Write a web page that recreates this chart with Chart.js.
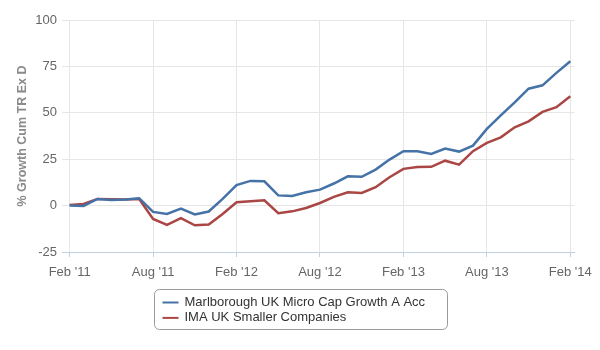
<!DOCTYPE html>
<html>
<head>
<meta charset="utf-8">
<script src="https://cdn.jsdelivr.net/npm/chart.js@4/dist/chart.umd.min.js"></script>
<style>
    body { margin: 0; background: #ffffff; }
    #wrap { width: 600px; height: 350px; }
</style>
</head>
<body>
<div id="wrap"><canvas id="growthChart" width="600" height="350"></canvas></div>
<script>
// monthly points, Feb 2011 .. Feb 2014
const months = [
    'Feb 2011', 'Mar 2011', 'Apr 2011', 'May 2011', 'Jun 2011', 'Jul 2011', 'Aug 2011', 'Sep 2011', 'Oct 2011', 'Nov 2011', 'Dec 2011', 'Jan 2012',
    'Feb 2012', 'Mar 2012', 'Apr 2012', 'May 2012', 'Jun 2012', 'Jul 2012', 'Aug 2012', 'Sep 2012', 'Oct 2012', 'Nov 2012', 'Dec 2012', 'Jan 2013',
    'Feb 2013', 'Mar 2013', 'Apr 2013', 'May 2013', 'Jun 2013', 'Jul 2013', 'Aug 2013', 'Sep 2013', 'Oct 2013', 'Nov 2013', 'Dec 2013', 'Jan 2014',
    'Feb 2014'
];
const tickLabels = ["Feb '11", "Aug '11", "Feb '12", "Aug '12", "Feb '13", "Aug '13", "Feb '14"];
const yTicks = [-25, 0, 25, 50, 75, 100];

const seriesNames = ['Marlborough UK Micro Cap Growth A Acc', 'IMA UK Smaller Companies'];
const marlborough = [0, -0.2, 3.6, 3.0, 3.3, 4.0, -3.4, -4.5, -1.6, -4.8, -3.2, 3.6,
    11.1, 13.3, 13.1, 5.5, 5.2, 7.2, 8.6, 11.9, 15.8, 15.5, 19.4, 24.8,
    29.3, 29.3, 27.8, 30.7, 29.1, 32.3, 41.3, 48.6, 55.6, 63.0, 64.8, 71.5, 77.8];
const imaSmaller = [0.3, 0.9, 3.6, 3.4, 3.3, 3.5, -7.2, -10.4, -6.8, -10.6, -10.2, -4.5,
    1.8, 2.3, 2.9, -4.1, -3.1, -1.3, 1.4, 4.7, 7.2, 6.8, 9.9, 15.3,
    19.8, 20.8, 20.9, 24.2, 22.1, 29.3, 33.8, 36.8, 42.2, 45.4, 50.5, 53.0, 58.9];

const FONT = '"Liberation Sans", Arial, sans-serif';
const AXIS_COLOR = '#C0D0E0';
const GRID_COLOR = '#e6e6e6';

Chart.defaults.font.family = FONT;

function toPoints(values) {
    return values.map((v, i) => ({ x: i, y: v, month: months[i] }));
}

// legend drawn as a bordered box under the axis
const legendBox = {
    id: 'legendBox',
    afterDraw(chart) {
        const ctx = chart.ctx;
        const sets = chart.data.datasets;
        ctx.save();
        ctx.font = '13px ' + FONT;
        const textW = Math.max(...sets.map(d => ctx.measureText(d.label).width));
        const w = Math.round(8 + 16 + 6 + textW + 22);
        const h = 40;
        const x = Math.round((chart.width - w) / 2) + 0.5;
        const y = 289.5;
        const r = 5;

        ctx.beginPath();
        ctx.moveTo(x + r, y);
        ctx.arcTo(x + w, y, x + w, y + h, r);
        ctx.arcTo(x + w, y + h, x, y + h, r);
        ctx.arcTo(x, y + h, x, y, r);
        ctx.arcTo(x, y, x + w, y, r);
        ctx.closePath();
        ctx.strokeStyle = '#9a9a9a';
        ctx.lineWidth = 1;
        ctx.stroke();

        sets.forEach((d, i) => {
            const rowY = y + 13 + i * 15.4;
            ctx.beginPath();
            ctx.moveTo(x + 8, rowY);
            ctx.lineTo(x + 24, rowY);
            ctx.strokeStyle = d.borderColor;
            ctx.lineWidth = 2;
            ctx.stroke();
            ctx.fillStyle = '#333333';
            ctx.textBaseline = 'middle';
            ctx.textAlign = 'left';
            ctx.fillText(d.label, x + 30, rowY);
        });
        ctx.restore();
    }
};

new Chart(document.getElementById('growthChart'), {
    type: 'line',
    data: {
        datasets: [{
            label: seriesNames[0],
            data: toPoints(marlborough),
            borderColor: '#4572A7',
            borderWidth: 2.5,
            pointRadius: 0,
            tension: 0
        }, {
            label: seriesNames[1],
            data: toPoints(imaSmaller),
            borderColor: '#AA4643',
            borderWidth: 2.5,
            pointRadius: 0,
            tension: 0
        }]
    },
    options: {
        responsive: false,
        animation: false,
        layout: { padding: { top: 20, right: 25, bottom: 68, left: 0 } },
        plugins: {
            legend: { display: false },
            tooltip: { enabled: false }
        },
        scales: {
            x: {
                type: 'linear',
                min: -0.55,
                max: 36.3,
                afterBuildTicks: scale => {
                    scale.ticks = tickLabels.map((_, i) => ({ value: i * 6 }));
                },
                afterFit: scale => { scale.height = 30; },
                ticks: {
                    autoSkip: false,
                    maxRotation: 0,
                    padding: 8,
                    color: '#666666',
                    font: { size: 13 },
                    callback: value => tickLabels[value / 6]
                },
                grid: {
                    color: GRID_COLOR,
                    tickColor: AXIS_COLOR,
                    tickLength: 5
                },
                border: { color: AXIS_COLOR, width: 1 }
            },
            y: {
                min: -25,
                max: 100,
                afterBuildTicks: scale => {
                    scale.ticks = yTicks.map(v => ({ value: v }));
                },
                afterFit: scale => { scale.width = 62; },
                ticks: {
                    padding: 5,
                    color: '#666666',
                    font: { size: 13 }
                },
                grid: {
                    drawTicks: false,
                    color: ctx => ctx.tick && ctx.tick.value === -25 ? 'rgba(0,0,0,0)' : GRID_COLOR
                },
                border: { display: false },
                title: {
                    display: true,
                    text: '% Growth Cum TR Ex D',
                    color: '#8a8a8a',
                    font: { size: 12.5, weight: 'bold' },
                    padding: { top: 15, bottom: 0 }
                }
            }
        }
    },
    plugins: [legendBox]
});
</script>
</body>
</html>
